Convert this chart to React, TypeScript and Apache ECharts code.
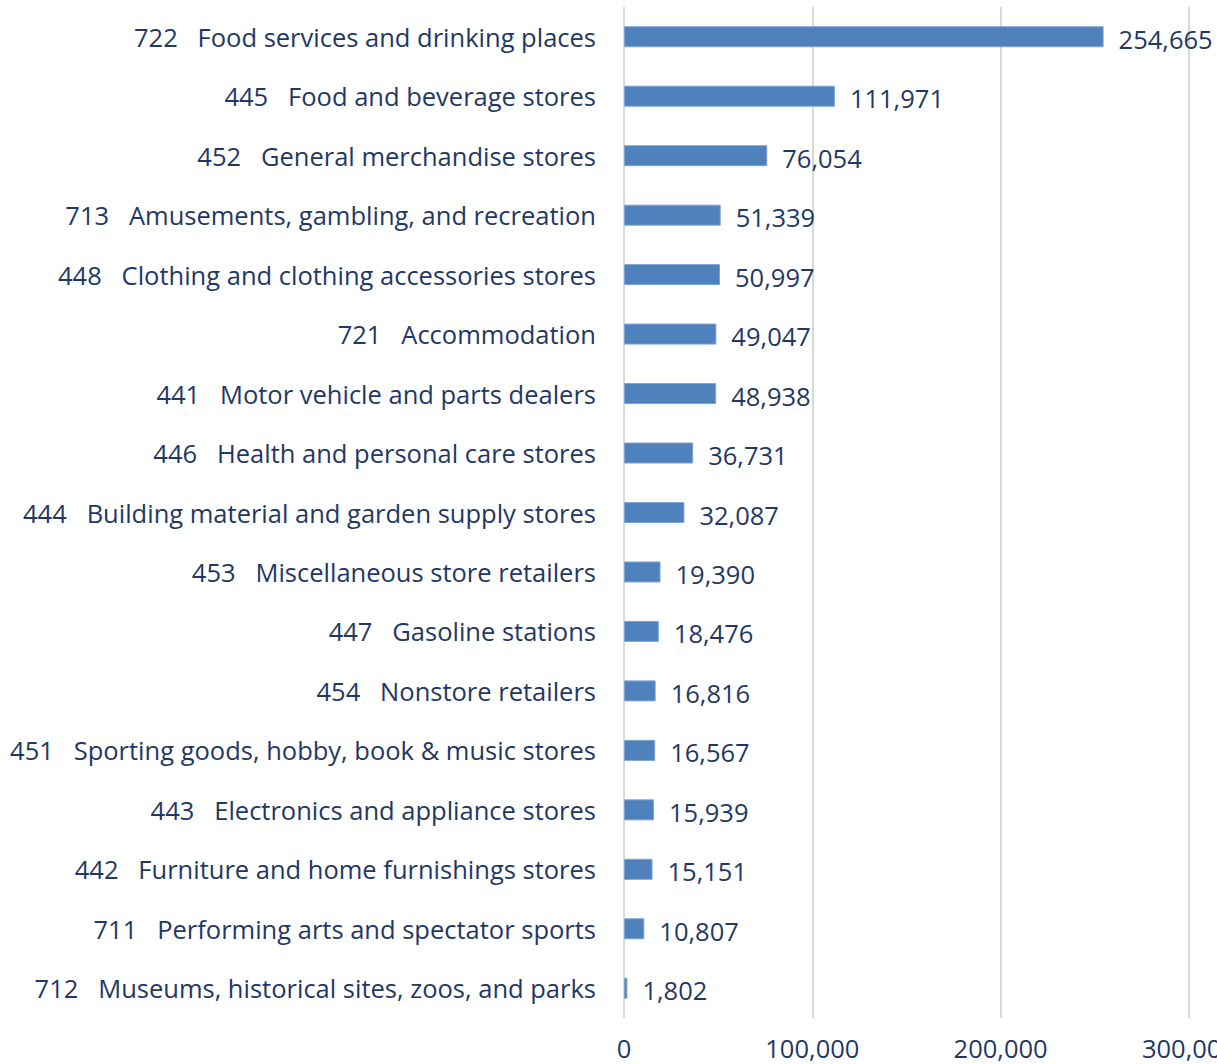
import React, { useEffect, useRef } from "react";
import * as echarts from "echarts";

const codes = ["722", "445", "452", "713", "448", "721", "441", "446", "444", "453", "447", "454", "451", "443", "442", "711", "712"];
const names = [
  "Food services and drinking places",
  "Food and beverage stores",
  "General merchandise stores",
  "Amusements, gambling, and recreation",
  "Clothing and clothing accessories stores",
  "Accommodation",
  "Motor vehicle and parts dealers",
  "Health and personal care stores",
  "Building material and garden supply stores",
  "Miscellaneous store retailers",
  "Gasoline stations",
  "Nonstore retailers",
  "Sporting goods, hobby, book & music stores",
  "Electronics and appliance stores",
  "Furniture and home furnishings stores",
  "Performing arts and spectator sports",
  "Museums, historical sites, zoos, and parks",
];
const values = [254665, 111971, 76054, 51339, 50997, 49047, 48938, 36731, 32087, 19390, 18476, 16816, 16567, 15939, 15151, 10807, 1802];
const xTicks = { min: 0, max: 300000, interval: 100000 };

const TEXT = "#1F3864";
const FONT = "'Open Sans', 'Noto Sans', sans-serif";

export default function App() {
  const ref = useRef<HTMLDivElement>(null);
  useEffect(() => {
    if (!ref.current) return;
    const chart = echarts.init(ref.current, null, { renderer: "svg" });
    const cats = codes.map((c, i) => c + "\u00a0\u00a0\u00a0" + names[i]).reverse();
    const data = values.slice().reverse();
    chart.setOption({
      animation: false,
      grid: {
        left: 624,
        width: 565,
        top: 7,
        height: 1011,
        containLabel: false,
        outerBoundsMode: "none",
      },
      xAxis: {
        type: "value",
        min: xTicks.min,
        max: xTicks.max,
        interval: xTicks.interval,
        axisLine: { show: false },
        axisTick: { show: false },
        splitLine: { show: true, lineStyle: { color: "#D9D9D9", width: 2 } },
        axisLabel: {
          color: TEXT,
          fontFamily: FONT,
          fontSize: 25.5,
          margin: 17,
          lineHeight: 26,
          formatter: (v: number) => v.toLocaleString("en-US"),
        },
      },
      yAxis: {
        type: "category",
        data: cats,
        axisLine: { show: false },
        axisTick: { show: false },
        splitLine: { show: false },
        axisLabel: { color: TEXT, fontFamily: FONT, fontSize: 25.5, margin: 28 },
      },
      series: [
        {
          type: "bar",
          data,
          barWidth: 21,
          itemStyle: { color: "#4F81BD", borderColor: "#7FA3D0", borderWidth: 1 },
          label: {
            show: true,
            position: "right",
            distance: 15,
            color: TEXT,
            fontFamily: FONT,
            fontSize: 25.5,
            offset: [0, 2],
            formatter: (p: any) => Number(p.value).toLocaleString("en-US"),
          },
        },
      ],
    });
    return () => chart.dispose();
  }, []);
  return (
    <div
      ref={ref}
      style={{ position: "fixed", left: 0, top: 0, width: 1217, height: 1064, background: "#fff" }}
    />
  );
}
